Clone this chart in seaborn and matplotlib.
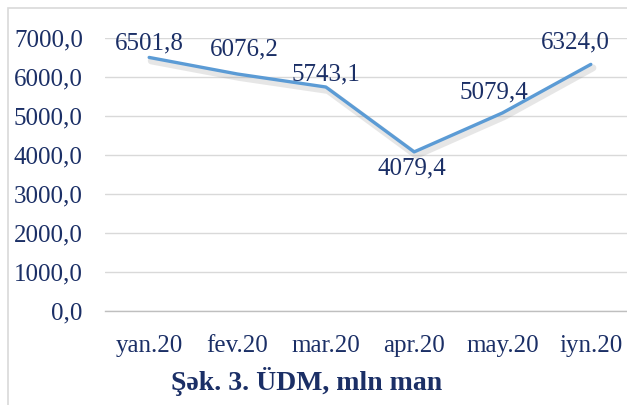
import matplotlib
matplotlib.use("Agg")
import matplotlib.pyplot as plt
import matplotlib.patheffects as pe
from matplotlib.patches import Rectangle
import seaborn as sns
import pandas as pd
import numpy as np

months = ["yan.20", "fev.20", "mar.20", "apr.20", "may.20", "iyn.20"]
values = [6501.8, 6076.2, 5743.1, 4079.4, 5079.4, 6324.0]
yticks = [0, 1000, 2000, 3000, 4000, 5000, 6000, 7000]
title = "Şək. 3. ÜDM, mln man"

# label offsets in points (style only)
label_dx = [0, 5, 0, -2, -6, -11]
label_dy = [10, 18, 9, -12, 15, 16]

sns.set_theme(style="white")
plt.rcParams['font.family'] = ['Liberation Serif', 'DejaVu Serif']

navy = "#1B2F66"
line_col = "#5B9BD5"

df = pd.DataFrame({"month": months, "value": values})
df["x"] = np.arange(len(months))

fig = plt.figure(figsize=(6.27, 4.05), dpi=100)
W, H = 627, 405
ax = fig.add_axes([105 / W, 1 - 311 / H, 530 / W, (311 - 38) / H])

sns.lineplot(data=df, x="x", y="value", ax=ax, color=line_col, linewidth=2.4,
             path_effects=[pe.SimpleLineShadow(offset=(1.5, -2.5), shadow_color="#909090", alpha=0.22, linewidth=5),
                           pe.Normal()])

ax.set_xlim(-0.5, len(months) - 0.5)
ax.set_ylim(0, 7000)
ax.set_yticks(yticks)
ax.set_yticklabels([f"{v:.1f}".replace(".", ",") for v in yticks])
ax.set_xticks(df["x"])
ax.set_xticklabels(months)
ax.set_xticks(np.arange(-0.5, len(months), 1.0), minor=True)
ax.tick_params(axis="x", which="major", length=0, pad=17, labelsize=18, labelcolor=navy)
ax.tick_params(axis="x", which="minor", length=6, width=1, color="#BFBFBF", direction="out")
ax.tick_params(axis="y", length=0, pad=16, labelsize=18, labelcolor=navy)
ax.set_xlabel("")
ax.set_ylabel("")

ax.grid(axis="y", color="#D9D9D9", linewidth=1)
ax.grid(axis="x", visible=False)
ax.set_axisbelow(True)
for s in ["top", "right", "left"]:
    ax.spines[s].set_visible(False)
ax.spines["bottom"].set_color("#BFBFBF")
ax.spines["bottom"].set_linewidth(1)

for i, v in enumerate(values):
    ax.annotate(f"{v:.1f}".replace(".", ","), (i, v), xytext=(label_dx[i], label_dy[i]),
                textcoords="offset points", ha="center", va="center",
                fontsize=18, color=navy)

fig.text(307 / W, 1 - 382 / H, title, ha="center", va="center", fontsize=20,
         fontweight="bold", color=navy)

fig.patches.append(Rectangle((8 / W, -0.1), 1.2, 1 - 8 / H + 0.1, transform=fig.transFigure,
                             fill=False, edgecolor="#D9D9D9", linewidth=1.2))

fig.savefig("out.png", dpi=100)
